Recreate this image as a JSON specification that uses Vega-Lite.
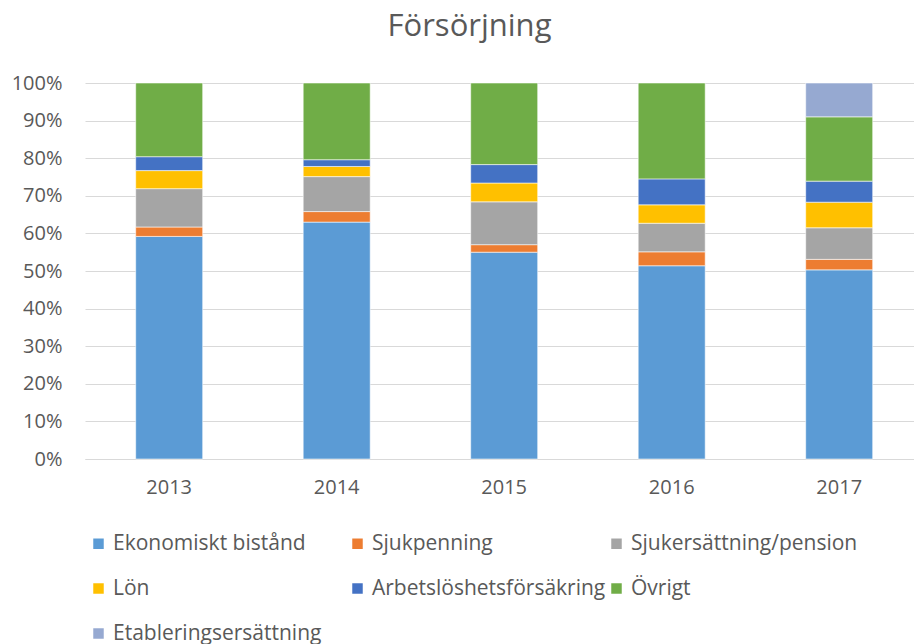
{
  "$schema": "https://vega.github.io/schema/vega-lite/v6.json",
  "autosize": "none",
  "width": 829,
  "height": 376,
  "padding": {"left": 85, "top": 83, "right": 0, "bottom": 185},
  "background": "white",
  "title": {
    "text": "Försörjning",
    "font": "Open Sans",
    "fontSize": 31,
    "fontWeight": "normal",
    "color": "#595959",
    "anchor": "middle",
    "dx": -30,
    "baseline": "alphabetic",
    "offset": 6
  },
  "config": {
    "view": {"stroke": null},
    "font": "Open Sans"
  },
  "data": {
    "values": [
      {"year": "2013", "cat": "Ekonomiskt bistånd", "ord": 1, "value": 0.592},
      {"year": "2013", "cat": "Sjukpenning", "ord": 2, "value": 0.025},
      {"year": "2013", "cat": "Sjukersättning/pension", "ord": 3, "value": 0.102},
      {"year": "2013", "cat": "Lön", "ord": 4, "value": 0.048},
      {"year": "2013", "cat": "Arbetslöshetsförsäkring", "ord": 5, "value": 0.037},
      {"year": "2013", "cat": "Övrigt", "ord": 6, "value": 0.196},
      {"year": "2014", "cat": "Ekonomiskt bistånd", "ord": 1, "value": 0.630},
      {"year": "2014", "cat": "Sjukpenning", "ord": 2, "value": 0.028},
      {"year": "2014", "cat": "Sjukersättning/pension", "ord": 3, "value": 0.093},
      {"year": "2014", "cat": "Lön", "ord": 4, "value": 0.027},
      {"year": "2014", "cat": "Arbetslöshetsförsäkring", "ord": 5, "value": 0.018},
      {"year": "2014", "cat": "Övrigt", "ord": 6, "value": 0.204},
      {"year": "2015", "cat": "Ekonomiskt bistånd", "ord": 1, "value": 0.550},
      {"year": "2015", "cat": "Sjukpenning", "ord": 2, "value": 0.020},
      {"year": "2015", "cat": "Sjukersättning/pension", "ord": 3, "value": 0.114},
      {"year": "2015", "cat": "Lön", "ord": 4, "value": 0.050},
      {"year": "2015", "cat": "Arbetslöshetsförsäkring", "ord": 5, "value": 0.049},
      {"year": "2015", "cat": "Övrigt", "ord": 6, "value": 0.217},
      {"year": "2016", "cat": "Ekonomiskt bistånd", "ord": 1, "value": 0.514},
      {"year": "2016", "cat": "Sjukpenning", "ord": 2, "value": 0.037},
      {"year": "2016", "cat": "Sjukersättning/pension", "ord": 3, "value": 0.076},
      {"year": "2016", "cat": "Lön", "ord": 4, "value": 0.049},
      {"year": "2016", "cat": "Arbetslöshetsförsäkring", "ord": 5, "value": 0.069},
      {"year": "2016", "cat": "Övrigt", "ord": 6, "value": 0.255},
      {"year": "2017", "cat": "Ekonomiskt bistånd", "ord": 1, "value": 0.503},
      {"year": "2017", "cat": "Sjukpenning", "ord": 2, "value": 0.028},
      {"year": "2017", "cat": "Sjukersättning/pension", "ord": 3, "value": 0.084},
      {"year": "2017", "cat": "Lön", "ord": 4, "value": 0.068},
      {"year": "2017", "cat": "Arbetslöshetsförsäkring", "ord": 5, "value": 0.056},
      {"year": "2017", "cat": "Övrigt", "ord": 6, "value": 0.171},
      {"year": "2017", "cat": "Etableringsersättning", "ord": 7, "value": 0.090}
    ]
  },
  "mark": {"type": "bar", "stroke": "white", "strokeWidth": 0.8, "strokeOpacity": 0.7},
  "encoding": {
    "x": {
      "field": "year",
      "type": "nominal",
      "scale": {"paddingInner": 0.6, "paddingOuter": 0.2746, "align": 0.551},
      "axis": {
        "title": null,
        "labelAngle": 0,
        "labelFont": "Open Sans",
        "labelFontSize": 20,
        "labelColor": "#595959",
        "labelPadding": 18,
        "domain": true,
        "domainColor": "#D9D9D9",
        "domainWidth": 1,
        "ticks": false
      }
    },
    "y": {
      "field": "value",
      "type": "quantitative",
      "stack": "zero",
      "scale": {"domain": [0, 1]},
      "axis": {
        "title": null,
        "format": ".0%",
        "values": [0, 0.1, 0.2, 0.3, 0.4, 0.5, 0.6, 0.7, 0.8, 0.9, 1],
        "labelFont": "Open Sans",
        "labelFontSize": 20,
        "labelColor": "#595959",
        "labelPadding": 23,
        "domain": false,
        "ticks": false,
        "grid": true,
        "gridColor": "#D9D9D9",
        "gridWidth": 1
      }
    },
    "color": {
      "field": "cat",
      "type": "nominal",
      "scale": {
        "domain": ["Ekonomiskt bistånd", "Sjukpenning", "Sjukersättning/pension", "Lön", "Arbetslöshetsförsäkring", "Övrigt", "Etableringsersättning"],
        "range": ["#5B9BD5", "#ED7D31", "#A5A5A5", "#FFC000", "#4472C4", "#70AD47", "#96A9D1"]
      },
      "legend": {
        "title": null,
        "orient": "none",
        "legendX": 3,
        "legendY": 450,
        "direction": "horizontal",
        "columns": 3,
        "gridAlign": "all",
        "symbolType": "square",
        "symbolSize": 110,
        "symbolStrokeWidth": 0,
        "labelFont": "Open Sans",
        "labelFontSize": 21,
        "labelColor": "#595959",
        "labelOffset": 4,
        "labelLimit": 400,
        "columnPadding": 0,
        "rowPadding": 23
      }
    },
    "order": {"field": "ord", "type": "quantitative"}
  }
}
